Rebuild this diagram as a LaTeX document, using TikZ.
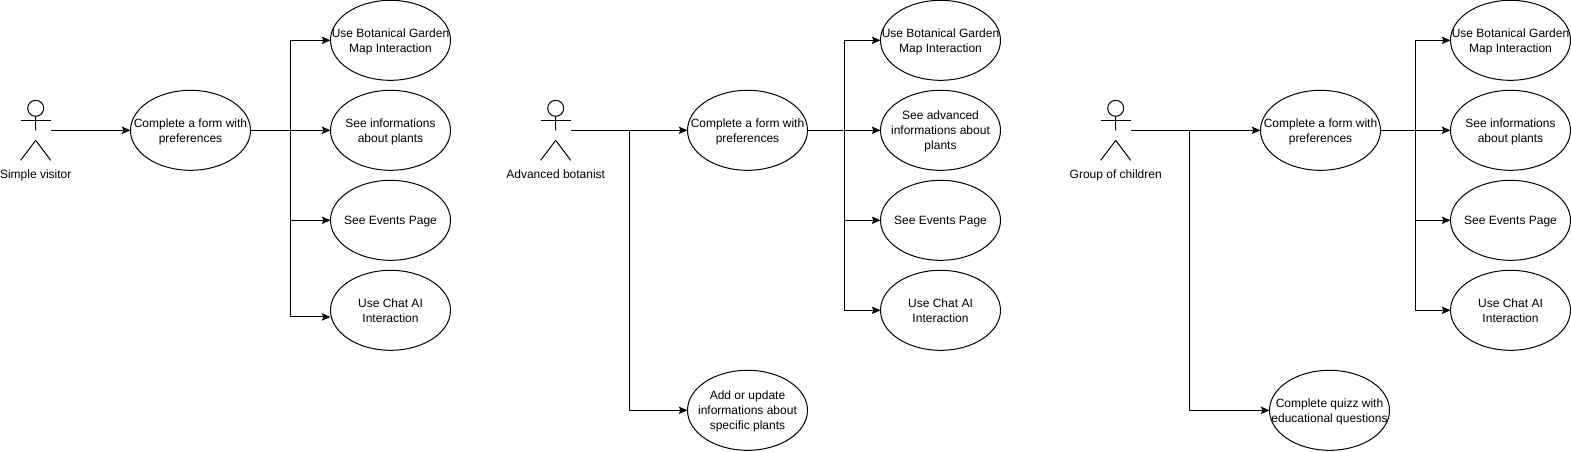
\documentclass[tikz,border=0pt]{standalone}
\usepackage{fontspec}
\setmainfont{Liberation Sans}
\usetikzlibrary{shapes.geometric, arrows.meta}
\tikzstyle{usecase} = [ellipse, minimum width=90pt, minimum height=60pt, inner xsep=-20pt, inner ysep=0pt, outer sep=0pt, align=center, draw=black, line width=0.75pt, font=\fontsize{9}{11.25}\selectfont, execute at begin node={\rule{0pt}{8.4pt}}]
\tikzstyle{wrapped} = [usecase, text depth=-0.6pt]
\tikzstyle{actor} = [rectangle, minimum width=22.5pt, minimum height=45pt, inner sep=0pt, outer sep=0pt]
\tikzstyle{actorname} = [inner sep=0pt, text height=7pt, text depth=2pt, font=\fontsize{9}{11}\selectfont]
\tikzstyle{arrow} = [line width=0.75pt, -{Stealth[length=6.5pt, width=5.5pt, inset=1.2pt]}]
\tikzstyle{stick} = [line width=0.75pt]

\begin{document}
\begin{tikzpicture}[x=0.75pt, y=-0.75pt, node distance=67.5pt]
	\useasboundingbox (0,0) rectangle (1571,451);

	\node (mapA) [wrapped] at (390.5,40.3) {Use Botanical Garden\\Map Interaction};
	\node (infoA) [wrapped, below of=mapA] {See informations\\about plants};
	\node (eventsA) [usecase, below of=infoA] {See Events Page};
	\node (chatA) [wrapped, below of=eventsA] {Use Chat AI\\Interaction};
	\node (formA) [wrapped, left of=infoA, xshift=-82.5pt] {Complete a form with\\preferences};
	\node (visitor) [actor, left of=formA, xshift=-48.6pt] {};
	\node (visitorname) [actorname, node distance=33.7pt, below of=visitor] {Simple visitor};
	\coordinate (trunkA) at ([xshift=30pt]formA.east);

	\draw [arrow] (visitor.east) -- (formA.west);
	\draw [arrow] (formA.east) -- (trunkA) |- (mapA.west);
	\draw [arrow] (formA.east) -- (infoA.west);
	\draw [arrow] (trunkA) |- (eventsA.west);
	\draw [arrow] (trunkA) |- ([yshift=-5pt]chatA.west);

	\node (mapB) [wrapped] at (940.5,40.3) {Use Botanical Garden\\Map Interaction};
	\node (infoB) [wrapped, below of=mapB] {See advanced\\informations about\\plants};
	\node (eventsB) [usecase, below of=infoB] {See Events Page};
	\node (chatB) [wrapped, below of=eventsB] {Use Chat AI\\Interaction};
	\node (formB) [wrapped, left of=infoB, xshift=-77.25pt] {Complete a form with\\preferences};
	\node (updateB) [wrapped, node distance=210pt, below of=formB] {Add or update\\informations about\\specific plants};
	\node (botanist) [actor, left of=formB, xshift=-76.35pt] {};
	\node (botanistname) [actorname, node distance=33.7pt, below of=botanist] {Advanced botanist};
	\coordinate (trunkB) at ([xshift=27.4pt]formB.east);
	\coordinate (branchB) at ([xshift=43.8pt]botanist.east);

	\draw [arrow] (botanist.east) -- (formB.west);
	\draw [arrow] (branchB) |- (updateB.west);
	\draw [arrow] (formB.east) -- (trunkB) |- (mapB.west);
	\draw [arrow] (formB.east) -- (infoB.west);
	\draw [arrow] (trunkB) |- (eventsB.west);
	\draw [arrow] (trunkB) |- (chatB.west);

	\node (mapC) [wrapped] at (1510.5,40.3) {Use Botanical Garden\\Map Interaction};
	\node (infoC) [wrapped, below of=mapC] {See informations\\about plants};
	\node (eventsC) [usecase, below of=infoC] {See Events Page};
	\node (chatC) [wrapped, below of=eventsC] {Use Chat AI\\Interaction};
	\node (formC) [wrapped, left of=infoC, xshift=-75pt] {Complete a form with\\preferences};
	\node (quizC) [wrapped, node distance=210pt, below of=formC, xshift=6.75pt] {Complete quizz with\\educational questions};
	\node (children) [actor, left of=formC, xshift=-86.1pt] {};
	\node (childrenname) [actorname, node distance=33.7pt, below of=children] {Group of children};
	\coordinate (trunkC) at ([xshift=26pt]formC.east);
	\coordinate (branchC) at ([xshift=44pt]children.east);

	\draw [arrow] (children.east) -- (formC.west);
	\draw [arrow] (branchC) |- (quizC.west);
	\draw [arrow] (formC.east) -- (trunkC) |- (mapC.west);
	\draw [arrow] (formC.east) -- (infoC.west);
	\draw [arrow] (trunkC) |- (eventsC.west);
	\draw [arrow] (trunkC) |- (chatC.west);

	\foreach \who in {visitor, botanist, children} {
		\draw [stick] (\who.north) ++(0,8) circle (8);
		\draw [stick] (\who.north) ++(0,16) -- (\who.center) ++(0,10) -- (\who.south west);
		\draw [stick] (\who.center) ++(0,10) -- (\who.south east);
		\draw [stick] (\who.west) ++(0,-10) -- ++(30,0);
	}
\end{tikzpicture}
\end{document}
